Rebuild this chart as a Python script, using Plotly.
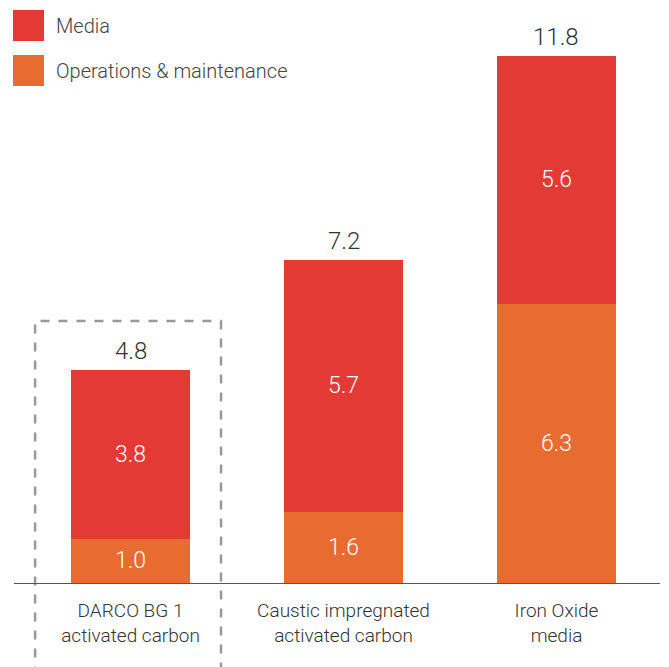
import plotly.graph_objects as go

categories = ["DARCO BG 1<br>activated carbon",
              "Caustic impregnated<br>activated carbon",
              "Iron Oxide<br>media"]
om_values = [1.0, 1.6, 6.3]
media_values = [3.8, 5.7, 5.6]
totals = [4.8, 7.2, 11.8]
series_names = ["Media", "Operations & maintenance"]

MEDIA_COLOR = "#E43A35"
OM_COLOR = "#E86C30"
FONT = "Roboto"

W, H = 661, 659
ML, MR, MT, MB = 6, 9, 0, 84
PW, PH = W - ML - MR, H - MT - MB

fig = go.Figure()
fig.add_trace(go.Bar(
    x=categories, y=om_values, name=series_names[1], marker_color=OM_COLOR,
    marker_line_width=0,
    text=[f"{v:.1f}" for v in om_values], textposition="inside",
    insidetextanchor="middle",
    textfont=dict(family=FONT, size=23, color="white", weight=300),
    showlegend=False))
fig.add_trace(go.Bar(
    x=categories, y=media_values, name=series_names[0], marker_color=MEDIA_COLOR,
    marker_line_width=0,
    text=[f"{v:.1f}" for v in media_values], textposition="inside",
    insidetextanchor="middle",
    textfont=dict(family=FONT, size=23, color="white", weight=300),
    showlegend=False))

for c, o, m, t in zip(categories, om_values, media_values, totals):
    fig.add_annotation(x=c, y=o + m, text=f"{t:.1f}", showarrow=False,
                       yanchor="bottom", yshift=3,
                       font=dict(family=FONT, size=24, color="#333", weight=300))

# dashed highlight box around first category
fig.add_shape(type="rect", xref="x", yref="paper", x0=-0.448, x1=0.425,
              y0=-0.3, y1=(PH - 313) / PH,
              line=dict(color="#999999", width=2.5, dash="dash"),
              fillcolor="rgba(0,0,0,0)", layer="below")

# legend (drawn)
for i, (nm, col) in enumerate(zip(series_names, [MEDIA_COLOR, OM_COLOR])):
    top = 2 + 45 * i
    fig.add_shape(type="rect", xref="paper", yref="paper",
                  x0=(5 - ML) / PW, x1=(36 - ML) / PW,
                  y0=(PH - top - 31) / PH, y1=(PH - top) / PH,
                  fillcolor=col, line=dict(width=0))
    fig.add_annotation(xref="paper", yref="paper", x=(46 - ML) / PW,
                       y=(PH - top - 15.5) / PH, text=nm, showarrow=False,
                       xanchor="left", yanchor="middle",
                       font=dict(family=FONT, size=20, color="#444", weight=300))

fig.update_layout(
    width=W, height=H,
    margin=dict(l=ML, r=MR, t=MT, b=MB),
    paper_bgcolor="white", plot_bgcolor="white",
    barmode="stack", bargap=0.44,
    xaxis=dict(range=[-0.547, 2.486], showgrid=False, showline=True,
               linecolor="#555555", linewidth=1, ticks="",
               ticklabelstandoff=10,
               tickfont=dict(family=FONT, size=19, color="#333", weight=300)),
    yaxis=dict(range=[0, PH / 44.3], visible=False, showgrid=False),
    font=dict(family=FONT),
)

fig.write_html("out.html")
